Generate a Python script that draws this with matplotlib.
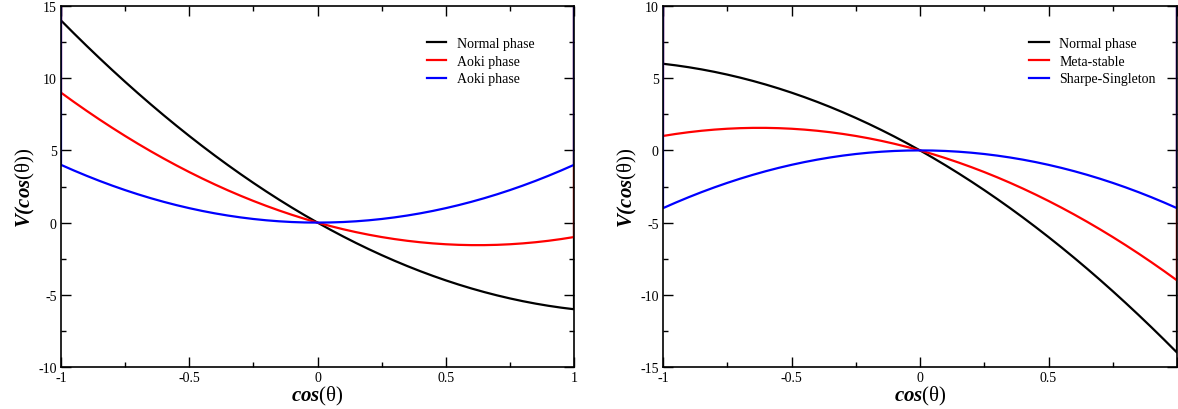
import matplotlib
matplotlib.use("Agg")
import matplotlib.pyplot as plt
from matplotlib.ticker import MultipleLocator, FuncFormatter

plt.rcParams['font.family'] = ['Liberation Serif', 'DejaVu Serif']
plt.rcParams['axes.unicode_minus'] = False
plt.rcParams['mathtext.fontset'] = 'custom'
plt.rcParams['mathtext.rm'] = 'Liberation Serif'
plt.rcParams['mathtext.it'] = 'Liberation Serif:italic'
plt.rcParams['mathtext.bf'] = 'Liberation Serif:bold'
plt.rcParams['mathtext.bfit'] = 'Liberation Serif:italic:bold'

# ---- data ----
x = [-1.0, -0.95, -0.9, -0.85, -0.8, -0.75, -0.7, -0.65, -0.6, -0.55, -0.5,
     -0.45, -0.4, -0.35, -0.3, -0.25, -0.2, -0.15, -0.1, -0.05, 0.0,
     0.05, 0.1, 0.15, 0.2, 0.25, 0.3, 0.35, 0.4, 0.45, 0.5,
     0.55, 0.6, 0.65, 0.7, 0.75, 0.8, 0.85, 0.9, 0.95, 1.0]

# left panel
left_normal = [14, 13.11, 12.24, 11.39, 10.56, 9.75, 8.96, 8.19, 7.44, 6.71, 6,
               5.31, 4.64, 3.99, 3.36, 2.75, 2.16, 1.59, 1.04, 0.51, 0,
               -0.49, -0.96, -1.41, -1.84, -2.25, -2.64, -3.01, -3.36, -3.69, -4,
               -4.29, -4.56, -4.81, -5.04, -5.25, -5.44, -5.61, -5.76, -5.89, -6]
left_aoki1 = [9, 8.36, 7.74, 7.14, 6.56, 6, 5.46, 4.94, 4.44, 3.96, 3.5,
              3.06, 2.64, 2.24, 1.86, 1.5, 1.16, 0.84, 0.54, 0.26, 0,
              -0.24, -0.46, -0.66, -0.84, -1, -1.14, -1.26, -1.36, -1.44, -1.5,
              -1.54, -1.56, -1.56, -1.54, -1.5, -1.44, -1.36, -1.26, -1.14, -1]
left_aoki2 = [4, 3.61, 3.24, 2.89, 2.56, 2.25, 1.96, 1.69, 1.44, 1.21, 1,
              0.81, 0.64, 0.49, 0.36, 0.25, 0.16, 0.09, 0.04, 0.01, 0,
              0.01, 0.04, 0.09, 0.16, 0.25, 0.36, 0.49, 0.64, 0.81, 1,
              1.21, 1.44, 1.69, 1.96, 2.25, 2.56, 2.89, 3.24, 3.61, 4]

# right panel
right_normal = [6, 5.89, 5.76, 5.61, 5.44, 5.25, 5.04, 4.81, 4.56, 4.29, 4,
                3.69, 3.36, 3.01, 2.64, 2.25, 1.84, 1.41, 0.96, 0.49, 0,
                -0.51, -1.04, -1.59, -2.16, -2.75, -3.36, -3.99, -4.64, -5.31, -6,
                -6.71, -7.44, -8.19, -8.96, -9.75, -10.56, -11.39, -12.24, -13.11, -14]
right_meta = [1, 1.14, 1.26, 1.36, 1.44, 1.5, 1.54, 1.56, 1.56, 1.54, 1.5,
              1.44, 1.36, 1.26, 1.14, 1, 0.84, 0.66, 0.46, 0.24, 0,
              -0.26, -0.54, -0.84, -1.16, -1.5, -1.86, -2.24, -2.64, -3.06, -3.5,
              -3.96, -4.44, -4.94, -5.46, -6, -6.56, -7.14, -7.74, -8.36, -9]
right_sharpe = [-4, -3.61, -3.24, -2.89, -2.56, -2.25, -1.96, -1.69, -1.44, -1.21, -1,
                -0.81, -0.64, -0.49, -0.36, -0.25, -0.16, -0.09, -0.04, -0.01, 0,
                -0.01, -0.04, -0.09, -0.16, -0.25, -0.36, -0.49, -0.64, -0.81, -1,
                -1.21, -1.44, -1.69, -1.96, -2.25, -2.56, -2.89, -3.24, -3.61, -4]

# potential diverges at the boundaries cos(theta) = +-1
boundary_value = 1000.0

left_labels = ['Normal phase', 'Aoki phase', 'Aoki phase']
right_labels = ['Normal phase', 'Meta-stable', 'Sharpe-Singleton']
colors = ['black', 'red', 'blue']

fig = plt.figure(figsize=(11.78, 4.10), dpi=100)
ax1 = fig.add_axes([61/1178, 1-368/410, 513/1178, 361/410])
ax2 = fig.add_axes([663/1178, 1-368/410, 514/1178, 361/410])


def with_edges(vals):
    xs = [x[0]] + list(x) + [x[-1]]
    ys = [boundary_value] + list(vals) + [boundary_value]
    return xs, ys


def fmt(v, pos):
    s = '%g' % v
    return '0' if s in ('-0', '0') else s


def fmt_right(v, pos):
    if v > 0.99:
        return ''
    return fmt(v, pos)


def style(ax, ylim, xfmt):
    ax.set_xlim(-1, 1)
    ax.set_ylim(*ylim)
    ax.xaxis.set_major_locator(MultipleLocator(0.5))
    ax.xaxis.set_minor_locator(MultipleLocator(0.25))
    ax.yaxis.set_major_locator(MultipleLocator(5))
    ax.yaxis.set_minor_locator(MultipleLocator(2.5))
    ax.xaxis.set_major_formatter(FuncFormatter(xfmt))
    ax.yaxis.set_major_formatter(FuncFormatter(fmt))
    ax.tick_params(which='both', direction='in', top=True, right=True,
                   labelsize=10, width=1.0, pad=3)
    ax.tick_params(which='major', length=7)
    ax.tick_params(which='minor', length=3.5)
    for s in ax.spines.values():
        s.set_linewidth(1.2)
    ax.set_xlabel(r'$\mathbfit{cos}$(θ)', fontsize=15, labelpad=0)
    ax.set_ylabel(r'$\mathbfit{V(cos}$(θ))', fontsize=15, labelpad=1)


for vals, c, lab in zip([left_normal, left_aoki1, left_aoki2], colors, left_labels):
    xs, ys = with_edges(vals)
    ax1.plot(xs, ys, color=c, lw=1.6, label=lab)
for vals, c, lab in zip([right_normal, right_meta, right_sharpe], colors, right_labels):
    xs, ys = with_edges(vals)
    ax2.plot(xs, ys, color=c, lw=1.6, label=lab)

style(ax1, (-10, 15), fmt)
style(ax2, (-15, 10), fmt_right)

for ax in (ax1, ax2):
    ax.legend(loc='upper left', bbox_to_anchor=(0.713, 0.915), frameon=False,
              fontsize=10, handlelength=1.4, handletextpad=0.75,
              labelspacing=0.35, borderpad=0, borderaxespad=0)

fig.savefig('out.png', dpi=100)
